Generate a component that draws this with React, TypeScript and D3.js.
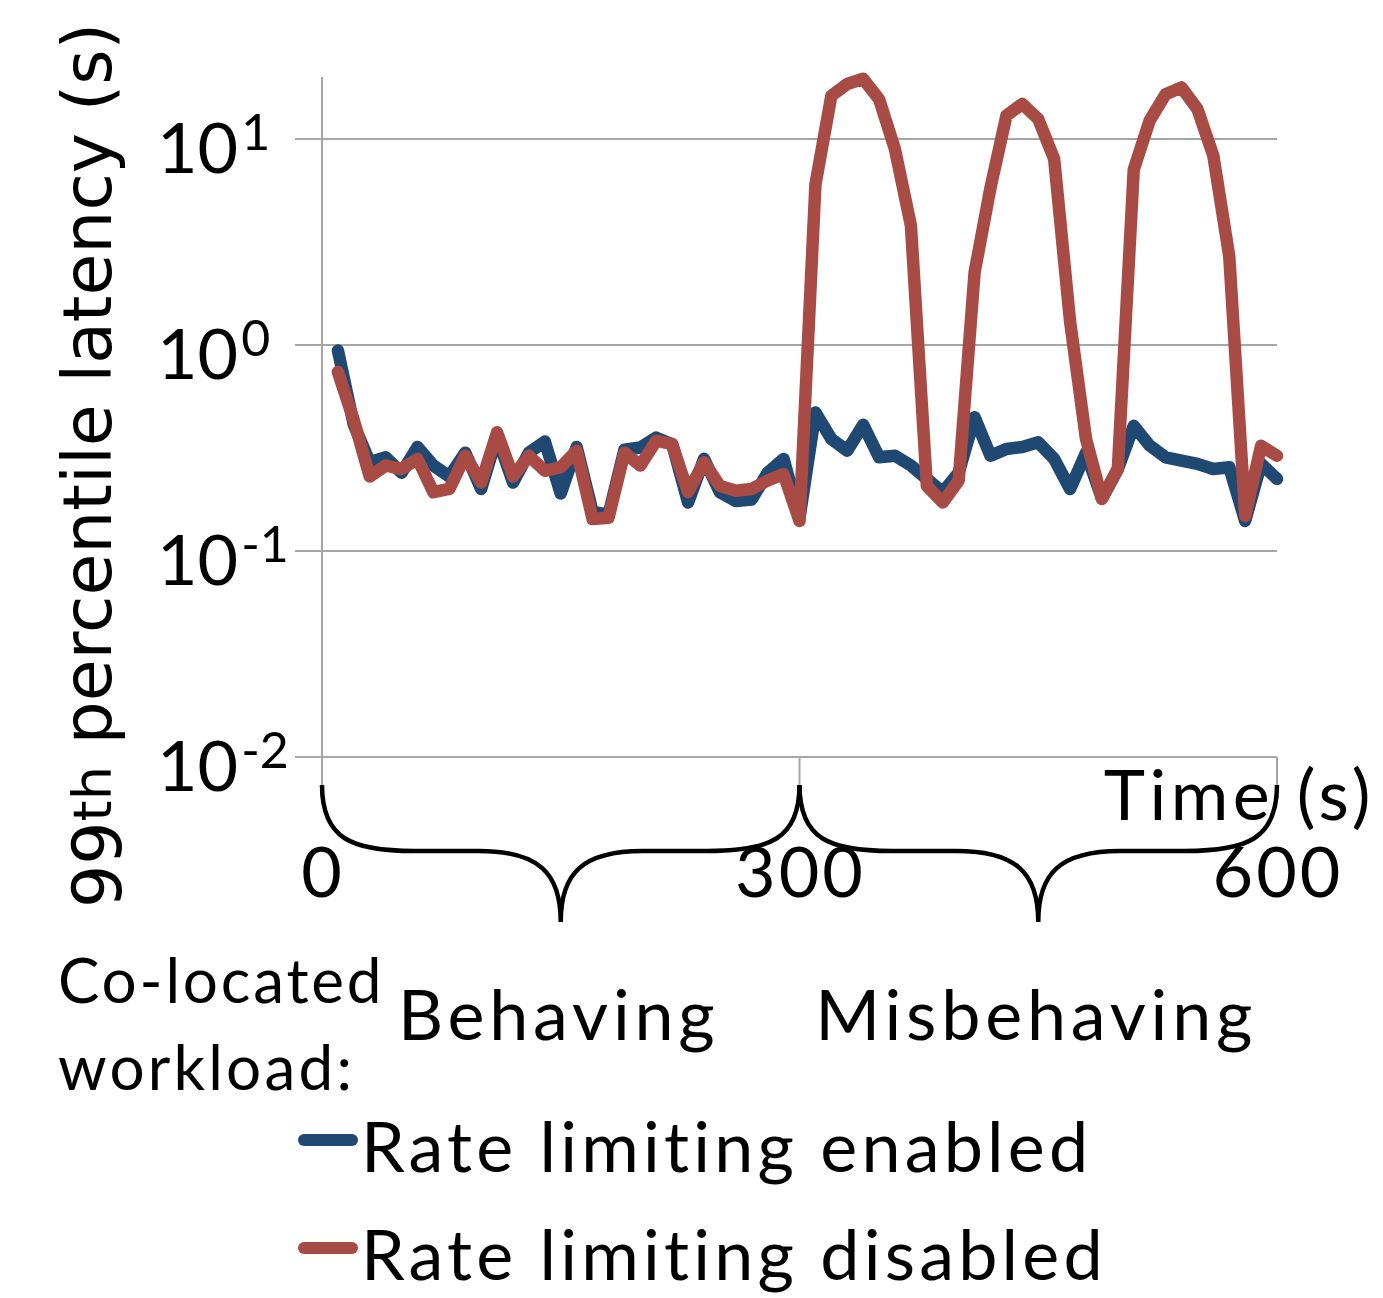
import React, { useEffect, useRef } from 'react'
import * as d3 from 'd3'

// sample times (s), one point every 10 s
const times = [10, 20, 30, 40, 50, 60, 70, 80, 90, 100, 110, 120, 130, 140, 150, 160, 170, 180, 190, 200,
  210, 220, 230, 240, 250, 260, 270, 280, 290, 300, 310, 320, 330, 340, 350, 360, 370, 380, 390, 400,
  410, 420, 430, 440, 450, 460, 470, 480, 490, 500, 510, 520, 530, 540, 550, 560, 570, 580, 590, 600]

// 99th percentile latency (s), rate limiting enabled
const enabled = [0.94, 0.41, 0.27, 0.285, 0.24, 0.32, 0.26, 0.23, 0.30, 0.20, 0.36, 0.215, 0.30, 0.34, 0.19, 0.32, 0.155, 0.15, 0.31, 0.318,
  0.355, 0.33, 0.172, 0.28, 0.193, 0.175, 0.178, 0.24, 0.28, 0.145, 0.47, 0.35, 0.307, 0.41, 0.285, 0.29, 0.26, 0.224, 0.193, 0.24,
  0.446, 0.29, 0.313, 0.32, 0.337, 0.28, 0.20, 0.30, 0.18, 0.25, 0.405, 0.325, 0.285, 0.275, 0.265, 0.25, 0.255, 0.14, 0.265, 0.224]

// 99th percentile latency (s), rate limiting disabled
const disabled = [0.74, 0.43, 0.23, 0.26, 0.25, 0.28, 0.193, 0.20, 0.29, 0.215, 0.377, 0.23, 0.29, 0.245, 0.255, 0.307, 0.143, 0.145, 0.30, 0.26,
  0.343, 0.33, 0.193, 0.27, 0.207, 0.196, 0.20, 0.22, 0.236, 0.14, 6.0, 16.2, 18.5, 19.6, 15.6, 8.9, 3.8, 0.207, 0.172, 0.22,
  2.25, 5.8, 13, 14.8, 12.5, 8.0, 1.3, 0.35, 0.179, 0.25, 7.1, 12.3, 16.5, 17.8, 14, 8.3, 2.7, 0.148, 0.324, 0.29]

const yTicks = [0.01, 0.1, 1, 10]
const yTickExponents = ['-2', '-1', '0', '1']
const xTicks = [0, 300, 600]
const phaseLabels = ['Behaving', 'Misbehaving']
const phaseStarts = [0, 300]
const phaseEnds = [300, 600]
const seriesNames = ['Rate limiting enabled', 'Rate limiting disabled']
const seriesColors = ['#1f4973', '#a84b45']

const FONT = 'Lato, "Open Sans", sans-serif'

export default function App() {
  const ref = useRef<SVGSVGElement>(null)

  useEffect(() => {
    const svg = d3.select(ref.current)
    svg.selectAll('*').remove()

    const x = d3.scaleLinear().domain([0, 600]).range([322, 1277])
    const y = d3.scaleLog().domain([0.01, 20]).range([757, 77])
    const plotBottom = y(0.01)
    const tickLen = 28

    // gridlines (with outside tick stubs)
    svg.append('g').selectAll('line')
      .data(yTicks)
      .enter().append('line')
      .attr('x1', x(0) - tickLen + 1)
      .attr('x2', x(600))
      .attr('y1', d => y(d))
      .attr('y2', d => y(d))
      .attr('stroke', '#a6a6a6')
      .attr('stroke-width', 2)

    // y axis
    svg.append('line')
      .attr('x1', x(0)).attr('x2', x(0))
      .attr('y1', y(20)).attr('y2', plotBottom + tickLen)
      .attr('stroke', '#a6a6a6')
      .attr('stroke-width', 2)

    // x ticks
    svg.append('g').selectAll('line')
      .data(xTicks.slice(1))
      .enter().append('line')
      .attr('x1', d => x(d)).attr('x2', d => x(d))
      .attr('y1', plotBottom).attr('y2', plotBottom + tickLen)
      .attr('stroke', '#a6a6a6')
      .attr('stroke-width', 2)

    // y tick labels 10^n
    const yl = svg.append('g').selectAll('text')
      .data(yTicks)
      .enter().append('text')
      .attr('x', 157)
      .attr('y', d => y(d) + 34)
      .style('font-family', FONT)
      .style('font-size', '70px')
      .attr('fill', '#000')
    yl.append('tspan').text('10')
    yl.append('tspan')
      .attr('dy', -23)
      .attr('dx', 3)
      .style('font-size', '50px')
      .text((d, i) => yTickExponents[i])

    // x tick labels
    svg.append('g').selectAll('text')
      .data(xTicks)
      .enter().append('text')
      .attr('x', d => x(d) + 1)
      .attr('y', 897)
      .attr('text-anchor', 'middle')
      .style('font-family', FONT)
      .style('font-size', '70px')
      .style('letter-spacing', '3px')
      .text(d => d)

    // series
    const lineGen = d3.line<number>()
      .x((d, i) => x(times[i]))
      .y(d => y(d))
    ;[enabled, disabled].forEach((vals, k) => {
      svg.append('path')
        .datum(vals)
        .attr('d', lineGen)
        .attr('fill', 'none')
        .attr('stroke', seriesColors[k])
        .attr('stroke-width', 12.5)
        .attr('stroke-linejoin', 'round')
        .attr('stroke-linecap', 'round')
    })

    // axis title
    svg.append('text')
      .attr('x', 1375)
      .attr('y', 820)
      .attr('text-anchor', 'end')
      .style('font-family', FONT)
      .style('font-size', '70px')
      .style('letter-spacing', '4.5px')
      .text('Time (s)')

    // y axis title
    const yt = svg.append('text')
      .attr('transform', 'translate(121,908) rotate(-90)')
      .style('font-family', '"DejaVu Sans", sans-serif')
      .style('font-size', '68px')
    yt.append('tspan').text('99')
    yt.append('tspan').attr('dy', -10).style('font-size', '54px').text('th')
    yt.append('tspan').text(' percentile latency (s)')

    // braces under the phases
    const top = plotBottom + tickLen
    const mid = 851
    const tip = 922
    const brace = (a: number, b: number) => {
      const xa = x(a), xb = x(b), xm = (xa + xb) / 2
      return `M${xa},${top} C${xa},${mid - 12} ${xa + 30},${mid} ${xa + 92},${mid}` +
        ` L${xm - 82},${mid} C${xm - 22},${mid} ${xm},${mid + 22} ${xm},${tip}` +
        ` C${xm},${mid + 22} ${xm + 22},${mid} ${xm + 82},${mid}` +
        ` L${xb - 92},${mid} C${xb - 30},${mid} ${xb},${mid - 12} ${xb},${top}`
    }
    svg.append('g').selectAll('path')
      .data(phaseStarts)
      .enter().append('path')
      .attr('d', (d, i) => brace(d, phaseEnds[i]))
      .attr('fill', 'none')
      .attr('stroke', '#000')
      .attr('stroke-width', 4.5)

    // phase labels
    svg.append('g').selectAll('text')
      .data(phaseLabels)
      .enter().append('text')
      .attr('x', (d, i) => (x(phaseStarts[i]) + x(phaseEnds[i])) / 2 - 2)
      .attr('y', 1040)
      .attr('text-anchor', 'middle')
      .style('font-family', FONT)
      .style('font-size', '70px')
      .style('letter-spacing', '4.8px')
      .text(d => d)

    svg.append('text')
      .attr('x', 58).attr('y', 1003)
      .style('font-family', FONT)
      .style('font-size', '62px')
      .style('letter-spacing', '2.8px')
      .text('Co-located')
    svg.append('text')
      .attr('x', 58).attr('y', 1090)
      .style('font-family', FONT)
      .style('font-size', '62px')
      .style('letter-spacing', '3.2px')
      .text('workload:')

    // legend
    const lg = svg.append('g').selectAll('g')
      .data(seriesNames)
      .enter().append('g')
      .attr('transform', (d, i) => `translate(0,${1140 + i * 108})`)
    lg.append('line')
      .attr('x1', 304).attr('x2', 352)
      .attr('stroke', (d, i) => seriesColors[i])
      .attr('stroke-width', 12)
      .attr('stroke-linecap', 'round')
    lg.append('text')
      .attr('x', 361).attr('y', 32)
      .style('font-family', FONT)
      .style('font-size', '70px')
      .style('letter-spacing', '4.2px')
      .text(d => d)
  }, [])

  return (
    <svg ref={ref} width={1383} height={1298}
      style={{ position: 'absolute', left: 0, top: 0, background: '#fff' }} />
  )
}
